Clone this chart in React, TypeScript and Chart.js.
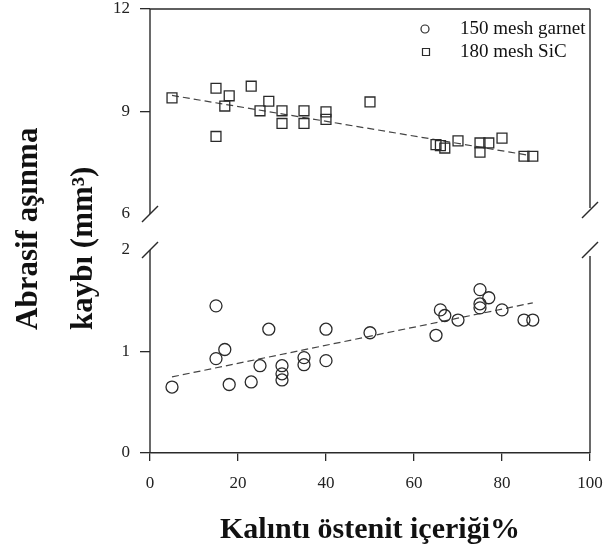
import React, { useEffect, useRef } from "react";
import { Chart, registerables } from "chart.js";

Chart.register(...registerables);

// ---- data ----
const garnetX = [5, 15, 15, 17, 18, 23, 25, 27, 30, 30, 30, 35, 35, 40, 40, 50, 65, 66, 67, 70, 75, 75, 75, 77, 80, 85, 87];
const garnetY = [0.65, 1.45, 0.93, 1.02, 0.675, 0.70, 0.86, 1.22, 0.86, 0.78, 0.72, 0.94, 0.87, 1.22, 0.91, 1.185, 1.16, 1.41, 1.355, 1.31, 1.61, 1.47, 1.43, 1.53, 1.41, 1.31, 1.31];

const sicX = [5, 15, 15, 17, 18, 23, 25, 27, 30, 30, 35, 35, 40, 40, 50, 65, 66, 67, 70, 75, 75, 77, 80, 85, 87];
const sicY = [9.40, 9.68, 8.27, 9.16, 9.46, 9.74, 9.02, 9.30, 9.02, 8.65, 9.02, 8.65, 8.99, 8.77, 9.28, 8.03, 8.0, 7.93, 8.14, 8.08, 7.81, 8.08, 8.22, 7.69, 7.69];

const garnetFitX = [5, 87];
const garnetFitY = [0.75, 1.48];
const sicFitX = [5, 86];
const sicFitY = [9.47, 7.72];

const seriesLabels = ["150 mesh garnet", "180 mesh SiC"];
const xTitle = "Kalıntı östenit içeriği%";
const yTitleLines = ["Abrasif aşınma", "kaybı (mm³)"];

const xRange = [0, 100];
const xStep = 20;
const lowRange = [0, 2];
const lowStep = 1;
const highRange = [6, 12];
const highStep = 3;

const INK = "#2a2a2a";
const SERIF = '"Liberation Serif", "Times New Roman", serif';

const toPoints = (xs: number[], ys: number[]) => xs.map((x, i) => ({ x, y: ys[i] }));

const framePlugin = {
  id: "frame",
  afterDraw(chart: any) {
    const { ctx, chartArea, scales } = chart;
    const lo = scales.yLow;
    const hi = scales.yHigh;
    const L = chartArea.left;
    const R = chartArea.right;
    const hiTop = hi.getPixelForValue(highRange[1]);
    const hiBot = hi.getPixelForValue(highRange[0]);
    const loTop = lo.getPixelForValue(lowRange[1]);
    const loBot = lo.getPixelForValue(lowRange[0]);
    ctx.save();
    ctx.strokeStyle = INK;
    ctx.lineWidth = 1.4;
    const seg = (x1: number, y1: number, x2: number, y2: number) => {
      ctx.beginPath();
      ctx.moveTo(x1, y1);
      ctx.lineTo(x2, y2);
      ctx.stroke();
    };
    seg(L, hiTop, R, hiTop);
    seg(L, hiTop, L, hiBot);
    seg(R, hiTop, R, hiBot - 6);
    seg(L, loTop, L, loBot);
    seg(R, loTop + 6, R, loBot);
    [L, R].forEach((x) => {
      [hiBot + (x === R ? -4 : 0), loTop].forEach((y) => {
        seg(x - 8, y + 8, x + 8, y - 8);
      });
    });
    ctx.restore();
  },
};

const titleLegendPlugin = {
  id: "titleLegend",
  afterDraw(chart: any) {
    const { ctx, chartArea } = chart;
    ctx.save();
    // y axis title (two rotated lines)
    ctx.fillStyle = "#111";
    ctx.font = `bold 31px ${SERIF}`;
    ctx.textAlign = "left";
    ctx.textBaseline = "alphabetic";
    ctx.translate(chartArea.left - 113, chartArea.bottom - 123);
    ctx.rotate(-Math.PI / 2);
    yTitleLines.forEach((t, i) => ctx.fillText(t, 0, i * 55));
    ctx.restore();

    // legend
    ctx.save();
    ctx.strokeStyle = INK;
    ctx.lineWidth = 1.2;
    ctx.fillStyle = "#111";
    ctx.font = `19px ${SERIF}`;
    ctx.textBaseline = "middle";
    ctx.textAlign = "left";
    const mx = chartArea.right - 165;
    const tx = chartArea.right - 130;
    chart.data.datasets
      .filter((d: any) => !d.showLine)
      .forEach((d: any, i: number) => {
        const y = chartArea.top + 20 + i * 23;
        ctx.beginPath();
        if (d.pointStyle === "rect") {
          ctx.rect(mx + 1 - 3.5, y - 3.5, 7, 7);
        } else {
          ctx.arc(mx, y, 4, 0, Math.PI * 2);
        }
        ctx.stroke();
        ctx.fillText(d.label, tx, y);
      });
    ctx.restore();
  },
};

const tickFont = { family: SERIF, size: 17 };

export default function App() {
  const ref = useRef<HTMLCanvasElement | null>(null);

  useEffect(() => {
    if (!ref.current) return;
    const chart = new Chart(ref.current, {
      type: "scatter",
      data: {
        datasets: [
          {
            label: seriesLabels[0],
            data: toPoints(garnetX, garnetY),
            yAxisID: "yLow",
            pointStyle: "circle",
            pointRadius: 6,
            pointHoverRadius: 6,
            borderColor: INK,
            backgroundColor: "rgba(0,0,0,0)",
            borderWidth: 1.3,
          },
          {
            label: seriesLabels[1],
            data: toPoints(sicX, sicY),
            yAxisID: "yHigh",
            pointStyle: "rect",
            pointRadius: 7,
            pointHoverRadius: 7,
            borderColor: INK,
            backgroundColor: "rgba(0,0,0,0)",
            borderWidth: 1.3,
          },
          {
            label: "garnet fit",
            data: toPoints(garnetFitX, garnetFitY),
            yAxisID: "yLow",
            showLine: true,
            pointRadius: 0,
            borderColor: "#444",
            borderWidth: 1.2,
            borderDash: [7, 4],
          },
          {
            label: "SiC fit",
            data: toPoints(sicFitX, sicFitY),
            yAxisID: "yHigh",
            showLine: true,
            pointRadius: 0,
            borderColor: "#444",
            borderWidth: 1.2,
            borderDash: [7, 4],
          },
        ],
      },
      options: {
        responsive: false,
        maintainAspectRatio: false,
        animation: false,
        devicePixelRatio: 1,
        layout: { padding: { top: 9, right: 18, left: 0, bottom: 0 } },
        plugins: { legend: { display: false }, tooltip: { enabled: false } },
        scales: {
          x: {
            type: "linear",
            min: xRange[0],
            max: xRange[1],
            ticks: { stepSize: xStep, color: "#222", font: tickFont, padding: 12, maxRotation: 0 },
            grid: { drawOnChartArea: false, tickLength: 8, color: INK, lineWidth: 1.3 },
            border: { display: true, color: INK, width: 1.4 },
            title: {
              display: true,
              text: xTitle,
              color: "#111",
              font: { family: SERIF, size: 30, weight: "bold" },
              padding: { top: 0, bottom: 8 },
            },
            afterFit(s: any) {
              s.height = 103;
              s.paddingLeft = 0;
              s.paddingRight = 0;
            },
          },
          yLow: {
            type: "linear",
            position: "left",
            stack: "y",
            stackWeight: 239,
            min: lowRange[0],
            max: 2.355,
            ticks: { stepSize: lowStep, includeBounds: false, color: "#222", font: tickFont, padding: 10 },
            grid: {
              drawOnChartArea: false,
              tickLength: 10,
              lineWidth: 1.3,
              color: (c: any) => (c.tick && c.tick.value === lowRange[1] ? "rgba(0,0,0,0)" : INK),
            },
            border: { display: false },
            afterFit(s: any) {
              s.width = 150;
              s.paddingTop = 0;
              s.paddingBottom = 0;
            },
          },
          yHigh: {
            type: "linear",
            position: "left",
            stack: "y",
            stackWeight: 205,
            min: highRange[0],
            max: highRange[1],
            ticks: { stepSize: highStep, includeBounds: false, color: "#222", font: tickFont, padding: 10 },
            grid: {
              drawOnChartArea: false,
              tickLength: 10,
              lineWidth: 1.3,
              color: (c: any) => (c.tick && c.tick.value === highRange[0] ? "rgba(0,0,0,0)" : INK),
            },
            border: { display: false },
            afterFit(s: any) {
              s.width = 150;
              s.paddingTop = 0;
              s.paddingBottom = 0;
            },
          },
        },
      } as any,
      plugins: [framePlugin, titleLegendPlugin],
    });
    return () => chart.destroy();
  }, []);

  return (
    <div style={{ position: "fixed", left: 0, top: 0, width: 608, height: 556, background: "#fff" }}>
      <canvas ref={ref} width={608} height={556} style={{ display: "block" }} />
    </div>
  );
}
